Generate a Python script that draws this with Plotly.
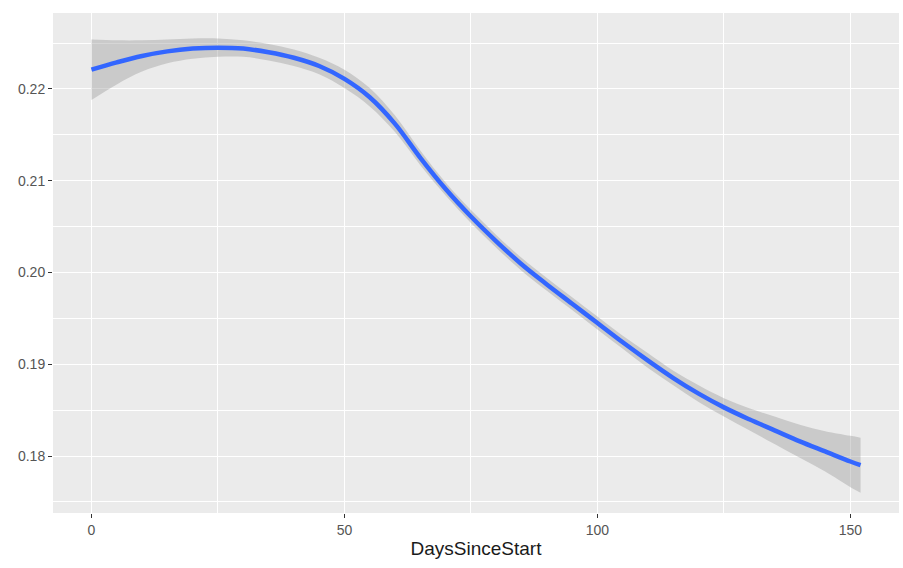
import plotly.graph_objects as go

days = [0, 5, 10, 15, 20, 25, 30, 35, 40, 45, 50, 55, 60, 65, 70, 75, 80, 85,
        90, 95, 100, 105, 110, 115, 120, 125, 130, 135, 140, 145, 150, 152]
fit = [0.2221, 0.2229, 0.2236, 0.2241, 0.2244, 0.2245, 0.2244, 0.2240, 0.2234,
       0.2225, 0.2211, 0.2191, 0.2162, 0.2125, 0.2091, 0.2061, 0.2034, 0.2009,
       0.1987, 0.1966, 0.1945, 0.1924, 0.1904, 0.1885, 0.1868, 0.1853, 0.1840,
       0.1828, 0.1816, 0.1805, 0.1794, 0.1790]
ci_half = [0.0033, 0.0024, 0.0017, 0.0013, 0.0011, 0.0010, 0.0009, 0.0009, 0.0009,
           0.0009, 0.0010, 0.0010, 0.0009, 0.0008, 0.0007, 0.0007, 0.0007, 0.0007,
           0.0007, 0.0007, 0.0007, 0.0007, 0.0008, 0.0008, 0.0009, 0.0010, 0.0012,
           0.0015, 0.0018, 0.0022, 0.0028, 0.0030]

x_ticks = [0, 50, 100, 150]
y_ticks = [0.18, 0.19, 0.20, 0.21, 0.22]
y_tick_labels = ["0.18", "0.19", "0.20", "0.21", "0.22"]

upper = [f + h for f, h in zip(fit, ci_half)]
lower = [f - h for f, h in zip(fit, ci_half)]

fig = go.Figure()
fig.add_trace(go.Scatter(
    x=days, y=lower, mode="lines",
    line=dict(width=0, shape="spline", smoothing=1.0),
    hoverinfo="skip", showlegend=False))
fig.add_trace(go.Scatter(
    x=days, y=upper, mode="lines", fill="tonexty", fillcolor="rgba(153,153,153,0.4)",
    line=dict(width=0, shape="spline", smoothing=1.0),
    hoverinfo="skip", showlegend=False))
fig.add_trace(go.Scatter(
    x=days, y=fit, mode="lines",
    line=dict(color="#3366FF", width=4.5, shape="spline", smoothing=1.0),
    showlegend=False))

axis_font = dict(family="Liberation Sans, Arial, sans-serif", size=14, color="#555555")

fig.update_layout(
    width=903, height=568,
    margin=dict(l=53, r=4, t=13, b=55),
    paper_bgcolor="white", plot_bgcolor="#EBEBEB",
    showlegend=False,
    xaxis=dict(
        range=[-7.6, 159.6], tickvals=x_ticks, ticktext=[str(v) for v in x_ticks],
        showgrid=True, gridcolor="white", gridwidth=1.2, zeroline=False,
        minor=dict(dtick=25, tick0=0, showgrid=True, gridcolor="white", gridwidth=0.6, ticks=""),
        ticks="outside", ticklen=4, tickcolor="#333333", tickwidth=1,
        tickfont=axis_font, showline=False,
        title=dict(text="DaysSinceStart", font=dict(family="Liberation Sans, Arial, sans-serif",
                                                   size=19, color="#1a1a1a"), standoff=4),
    ),
    yaxis=dict(
        range=[0.17379, 0.22828], tickvals=y_ticks, ticktext=y_tick_labels,
        showgrid=True, gridcolor="white", gridwidth=1.2, zeroline=False,
        minor=dict(dtick=0.005, tick0=0.175, showgrid=True, gridcolor="white", gridwidth=0.6, ticks=""),
        ticks="outside", ticklen=4, tickcolor="#333333", tickwidth=1,
        tickfont=axis_font, showline=False,
    ),
)

fig.write_html("out.html")
